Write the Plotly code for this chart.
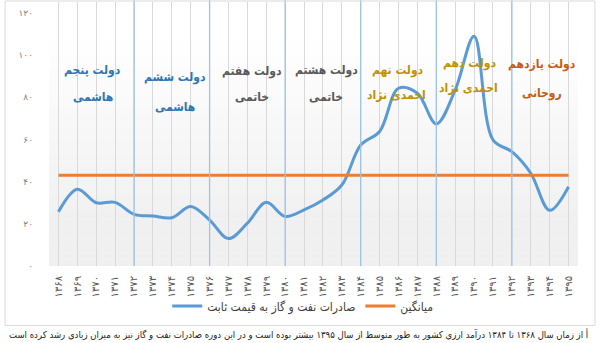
import plotly.graph_objects as go

FA = str.maketrans("0123456789", "۰۱۲۳۴۵۶۷۸۹")
def fa(n):
    return str(n).translate(FA)

years = list(range(1368, 1396))
exports = [25.7, 36.4, 30.0, 30.2, 24.5, 23.7, 22.9, 28.2, 21.8, 13.0,
           20.3, 30.2, 23.5, 26.6, 31.3, 38.4, 57.4, 63.8, 84.3, 81.9,
           67.4, 83.5, 109.0, 59.8, 54.2, 44.0, 26.4, 37.6]
average = 43.0
gov_boundaries = [1372, 1376, 1380, 1384, 1388, 1392]
year_labels = [fa(y) for y in years]
y_ticks = [0, 20, 40, 60, 80, 100, 120]

# government labels: (line1, line2, colour)
govs = [
    ("دولت پنجم", "هاشمی", "#2E75B6"),
    ("دولت ششم", "هاشمی", "#2E75B6"),
    ("دولت هفتم", "خاتمی", "#595959"),
    ("دولت هشتم", "خاتمی", "#595959"),
    ("دولت نهم", "احمدی نژاد", "#C09100"),
    ("دولت دهم", "احمدی نژاد", "#C09100"),
    ("دولت یازدهم", "روحانی", "#C55A11"),
]
# label pixel positions (style)
gov_pos = [((93, 70), (93, 97)), ((175, 78), (175, 107)), ((252, 71), (252, 97)),
           ((327, 70), (326, 97)), ((398, 70), (397, 95)), ((470, 63), (469, 88)),
           ((542, 64), (542, 93))]

W, H = 600, 343
L, R, T, B = 49, 21.5, 2, 77
pw, ph = W - L - R, H - T - B

def px(x):
    return (x - L) / pw
def py(y):
    return (H - B - y) / ph

fig = go.Figure()
fig.add_trace(go.Scatter(
    x=year_labels, y=exports, mode="lines",
    line=dict(color="#5B9BD5", width=3, shape="spline", smoothing=1),
    name="صادرات نفت و گاز به قیمت ثابت"))
fig.add_trace(go.Scatter(
    x=year_labels, y=[average] * len(years), mode="lines",
    line=dict(color="#ED7D31", width=3), name="میانگین"))

shapes = []
# gradient background
n = 40
for i in range(n):
    t = i / n
    g = 0.0 if t < 0.12 else min(1.0, (t - 0.12) / 0.7)
    c = int(round(255 - g * 15))
    shapes.append(dict(type="rect", xref="paper", yref="paper",
                       x0=0, x1=1, y0=1 - (i + 1) / n, y1=1 - i / n + 0.001,
                       fillcolor=f"rgb({c},{c},{c})", line=dict(width=0), layer="below"))
# government boundary lines
for yr in gov_boundaries:
    idx = years.index(yr)
    shapes.append(dict(type="line", xref="x", yref="paper", x0=idx, x1=idx,
                       y0=0, y1=py(0), line=dict(color="#9DC3E6", width=1.3)))
# chart border
shapes.append(dict(type="rect", xref="paper", yref="paper",
                   x0=px(5), x1=px(595.5), y0=py(325.5), y1=py(1),
                   line=dict(color="#D9D9D9", width=1)))

annotations = []
for (l1, l2, col), (p1, p2) in zip(govs, gov_pos):
    for txt, (xx, yy) in ((l1, p1), (l2, p2)):
        annotations.append(dict(text=f"<b>{txt}</b>", x=px(xx), y=py(yy),
                                xref="paper", yref="paper", showarrow=False,
                                xanchor="center", yanchor="middle",
                                font=dict(family="DejaVu Sans Condensed", size=12, color=col)))
# caption below the chart
annotations.append(dict(
    text="أ از زمان سال ۱۳۶۸ تا ۱۳۸۴ درآمد ارزی کشور به طور متوسط از سال ۱۳۹۵ بیشتر بوده است و در این دوره صادرات نفت و گاز نیز به میزان زیادی رشد کرده است",
    x=px(591), y=py(342), xref="paper", yref="paper", showarrow=False,
    xanchor="right", yanchor="bottom",
    font=dict(family="DejaVu Sans Condensed", size=9.5, color="#222222")))

fig.update_layout(
    width=W, height=H, margin=dict(l=L, r=R, t=T, b=B),
    paper_bgcolor="white", plot_bgcolor="rgba(0,0,0,0)",
    showlegend=True,
    legend=dict(orientation="h", x=px(303), xanchor="center", y=py(306), yanchor="middle",
                font=dict(family="DejaVu Sans Condensed", size=12, color="#404040"),
                bgcolor="rgba(0,0,0,0)", itemwidth=30),
    shapes=shapes, annotations=annotations,
    font=dict(family="DejaVu Sans"),
)
fig.update_xaxes(type="category", showgrid=True, gridcolor="#D9D9D9", gridwidth=1,
                 tickangle=-90, tickfont=dict(size=10, color="#595959"),
                 ticklabelstandoff=7, showline=False, zeroline=False,
                 range=[-0.5, len(years) - 0.5])
fig.update_yaxes(range=[0, 125.2], tickvals=y_ticks, ticktext=[fa(v) for v in y_ticks],
                 showgrid=False, zeroline=False, showline=False,
                 tickfont=dict(size=9, color="#7F7F7F"), ticklabelstandoff=15)

fig.write_html("out.html")
